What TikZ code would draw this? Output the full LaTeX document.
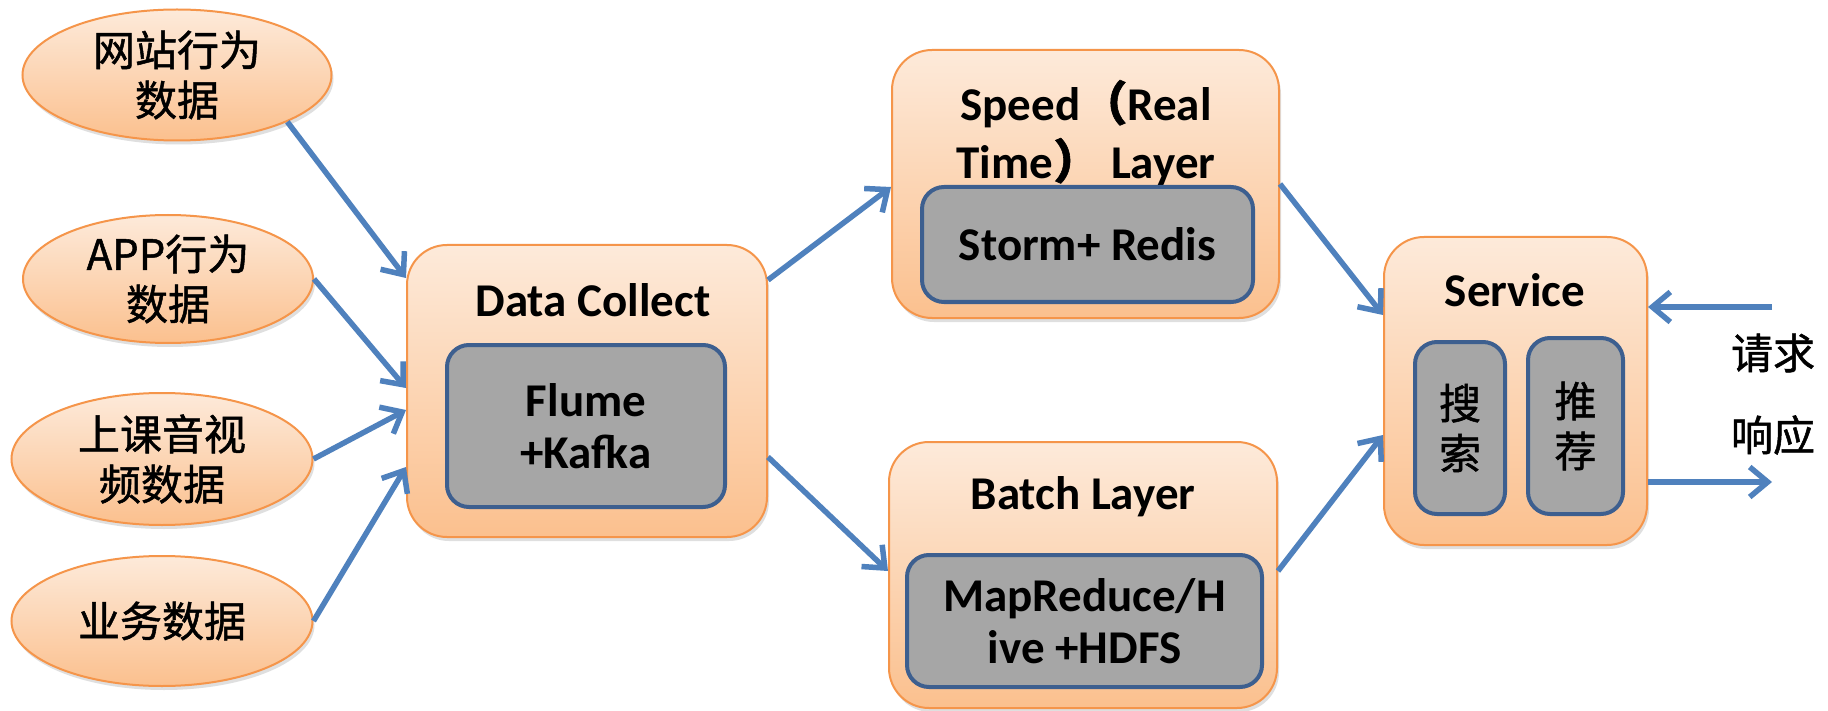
\documentclass[tikz,border=0pt]{standalone}
\usepackage{fontspec}
\setmainfont{Carlito}
\newfontfamily\cjk[FakeBold=1.2]{Noto Sans CJK SC}
\usetikzlibrary{arrows.meta,shadows,shapes.geometric}
\definecolor{ofillA}{HTML}{FDEADA}
\definecolor{ofillB}{HTML}{FBC08E}
\definecolor{oborder}{HTML}{F5954A}
\definecolor{gfill}{HTML}{A6A6A6}
\definecolor{gborder}{HTML}{3D5F8F}
\definecolor{arr}{HTML}{4F81BD}
\begin{document}
\begin{tikzpicture}[x=1pt,y=-1pt,
  oshade/.style={draw=oborder, line width=2pt, top color=ofillA, bottom color=ofillB,
    drop shadow={opacity=0.25,shadow xshift=2pt,shadow yshift=-4pt}},
  obox/.style={oshade, rectangle, rounded corners=40pt, inner sep=0pt},
  oell/.style={oshade, ellipse, inner sep=0pt, align=center,
    font=\cjk\fontsize{42}{50}\selectfont},
  gbox/.style={draw=gborder, line width=4pt, fill=gfill, rectangle, rounded corners=22pt,
    inner sep=0pt, align=center, font=\bfseries\fontsize{47}{52}\selectfont},
  cbox/.style={gbox, font=\cjk\fontsize{42}{50}\selectfont},
  ttl/.style={align=center, inner sep=0pt, font=\bfseries\fontsize{47}{58}\selectfont},
  lbl/.style={inner sep=0pt, font=\cjk\fontsize{42}{50}\selectfont},
  conn/.style={draw=arr, line width=5.5pt, -{Straight Barb[length=18pt,width=30pt]}}]
\fill[white] (0,0) rectangle (1828,711);
\useasboundingbox (0,0) rectangle (1828,711);
% sources
\node[oell, minimum width=309pt, minimum height=131pt] (e1) at (177,75) {网站行为\\数据};
\node[oell, minimum width=290pt, minimum height=128pt] (e2) at (168,279) {APP行为\\数据};
\node[oell, minimum width=301pt, minimum height=132pt] (e3) at (162,459) {上课音视\\频数据};
\node[oell, minimum width=301pt, minimum height=130pt] (e4) at (162,621) {业务数据};
% data collect
\node[obox, minimum width=360pt, minimum height=292pt] (dc) at (587,391) {};
\node[ttl] (dct) at (593,300) {Data Collect};
\node[gbox, minimum width=278pt, minimum height=162pt] (fk) at (586,426) {Flume\\+Kafka};
% speed layer
\node[obox, minimum width=387pt, minimum height=268pt] (sp) at (1085.5,184) {};
\node[ttl] (spt) at (1086,133) {Speed{\cjk（}Real\\Time{\cjk）} Layer};
\node[gbox, minimum width=331pt, minimum height=115pt] (sr) at (1087.5,244.5) {Storm+ Redis};
% batch layer
\node[obox, minimum width=388pt, minimum height=266pt] (bt) at (1083,575) {};
\node[ttl] (btt) at (1083,497) {Batch Layer};
\node[gbox, minimum width=355pt, minimum height=132pt] (mr) at (1084.5,621) {MapReduce/H\\ive +HDFS};
% service
\node[obox, minimum width=263pt, minimum height=308pt] (sv) at (1515.5,391) {};
\node[ttl] (svt) at (1515,290) {Service};
\node[cbox, minimum width=90pt, minimum height=172pt] (ss) at (1460,428) {搜\\索};
\node[cbox, minimum width=95pt, minimum height=176pt] (tj) at (1575.5,426) {推\\荐};
% request / response
\coordinate (req) at (1772,307);
\coordinate (resp) at (1772,482);
\node[lbl] (reql) at (1773,353) {请求};
\node[lbl] (respl) at (1773,435) {响应};
% connectors
\draw[conn] (e1.-23) -- ([yshift=113pt]dc.west);
\draw[conn] (e2.east) -- ([yshift=3pt]dc.west);
\draw[conn] (e3.east) -- ([yshift=-19pt]dc.west);
\draw[conn] (e4.east) -- ([yshift=-76pt]dc.west);
\draw[conn] ([yshift=111pt]dc.east) -- ([yshift=-3pt]sp.west);
\draw[conn] ([yshift=-66pt]dc.east) -- ([yshift=4pt]bt.west);
\draw[conn] (sp.east) -- ([yshift=76pt]sv.west);
\draw[conn] ([yshift=4pt]bt.east) -- ([yshift=-44pt]sv.west);
\draw[conn] (req) -- ([yshift=84pt]sv.east);
\draw[conn] ([yshift=-91pt]sv.east) -- (resp);
\end{tikzpicture}
\end{document}
